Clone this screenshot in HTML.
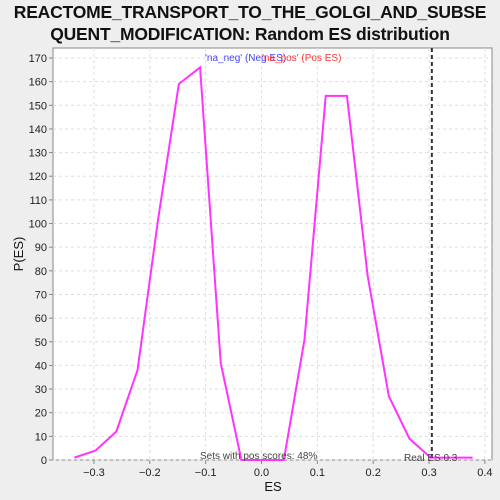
<!DOCTYPE html>
<html><head><meta charset="utf-8"><style>
body{margin:0;background:#eeeeee;font-family:"Liberation Sans","DejaVu Sans",sans-serif;}
#c{position:relative;width:500px;height:500px;}
.title{position:absolute;left:0;width:500px;text-align:center;font-weight:bold;font-size:17.5px;letter-spacing:-0.2px;color:#111;white-space:nowrap;}
</style></head><body><div id="c">
<div class="title" style="top:2px">REACTOME_TRANSPORT_TO_THE_GOLGI_AND_SUBSE</div>
<div class="title" style="top:24px">QUENT_MODIFICATION: Random ES distribution</div>
<svg id="s" width="500" height="500" style="position:absolute;left:0;top:0"></svg>
</div>
<script>
const xs=[-0.335,-0.297,-0.26,-0.222,-0.185,-0.148,-0.11,-0.073,-0.036,0.002,0.04,0.077,0.115,0.153,0.19,0.228,0.265,0.303,0.34,0.378];
const ys=[1,4,12,38,102,159,166,41,0,0,0,51,154,154,78,27,9,1,1,1];
const xTicks=[-0.3,-0.2,-0.1,0.0,0.1,0.2,0.3,0.4];
const yTicks=[0,10,20,30,40,50,60,70,80,90,100,110,120,130,140,150,160,170];
const realES=0.305;
const L=53,R=492,T=48,B=460;
const X=v=>261.5+v*558.5;
const Y=v=>B-v*(B-58)/170;
const s=document.getElementById('s');const NS='http://www.w3.org/2000/svg';
function mk(t,a,p){const e=document.createElementNS(NS,t);for(const k in a)e.setAttribute(k,a[k]);(p||s).appendChild(e);return e;}
let bg=mk('rect',{x:L,y:T,width:R-L,height:B-T,fill:'#fff',stroke:'#888'});


xTicks.forEach(t=>{const x=X(t);
 let g=mk('line',{x1:x,x2:x,y1:T,y2:B,stroke:'#ddd','stroke-dasharray':'3,3'});
 
 
 mk('line',{x1:x,x2:x,y1:B,y2:B+4,stroke:'#888'});
 let tx=mk('text',{x:x,y:B+16,'text-anchor':'middle','font-size':11,fill:'#222'});tx.textContent=t.toFixed(1).replace('-','\u2212');
 
 });
yTicks.forEach(t=>{const y=Y(t);
 let g=mk('line',{x1:L,x2:R,y1:y,y2:y,stroke:'#ddd','stroke-dasharray':'3,3'});
 
 
 mk('line',{x1:L-4,x2:L,y1:y,y2:y,stroke:'#888'});
 let tx=mk('text',{x:L-6,y:y+4,'text-anchor':'end','font-size':11,fill:'#222'});tx.textContent=t;
 
 });
let rl=mk('line',{x1:X(realES),x2:X(realES),y1:T,y2:B,stroke:'#333','stroke-width':2,'stroke-dasharray':'4,3'});


let ln=mk('polyline',{points:xs.map((v,i)=>X(v)+','+Y(ys[i])).join(' '),fill:'none',stroke:'#ff33ff','stroke-width':2});


function txt(x,y,str,a,name){const e=mk('text',Object.assign({x:x,y:y},a));e.textContent=str;
 
 return e;}
txt(273,491,'ES',{'text-anchor':'middle','font-size':13,fill:'#111'},'x-axis-title');
txt(23,254,'P(ES)',{'text-anchor':'middle','font-size':13,fill:'#111',transform:'rotate(-90 23 254)'},'y-axis-title');
txt(205,61,"'na_neg' (Neg ES)",{'font-size':10,fill:'#4444ff'},'legend-neg');
txt(262,61,"'na_pos' (Pos ES)",{'font-size':10,fill:'#ff3333'},'legend-pos');
txt(200,459,'Sets with pos scores: 48%',{'font-size':10,fill:'#444'},'pos-scores-note');
txt(404,461,'Real ES 0.3',{'font-size':10,fill:'#444'},'real-es-label');
</script></body></html>
